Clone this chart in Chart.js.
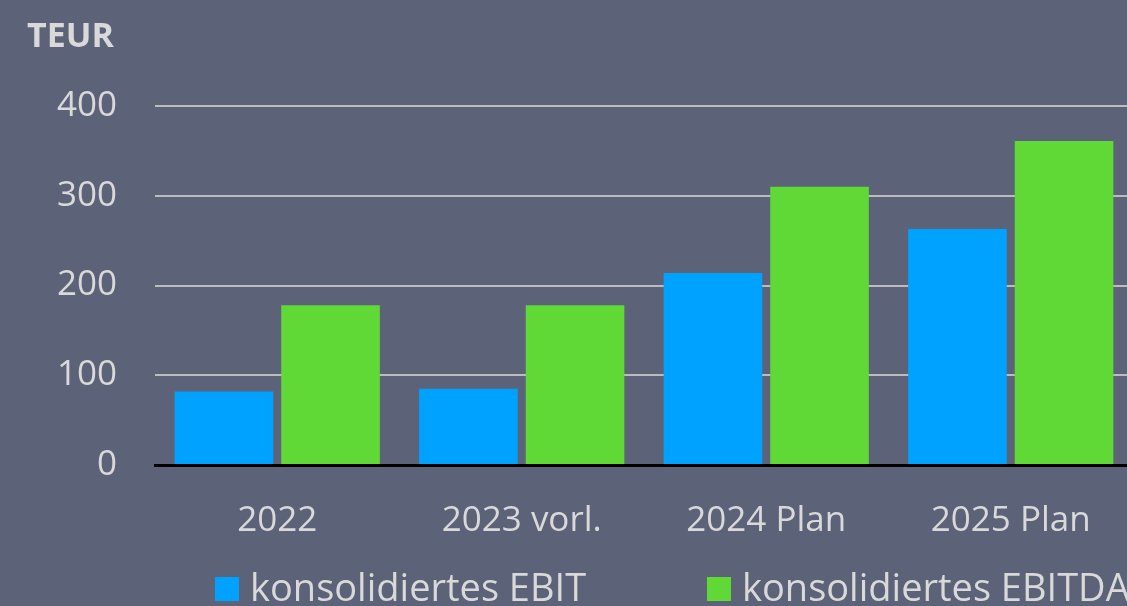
<!DOCTYPE html>
<html lang="de">
<head>
<meta charset="utf-8">
<title>Konsolidiertes EBIT / EBITDA</title>
<script src="https://cdn.jsdelivr.net/npm/chart.js@4/dist/chart.umd.min.js"></script>
<style>
    html, body { margin: 0; padding: 0; background: #5c6278; overflow: hidden; }
    /* the plot runs a few pixels past the right edge, as in the original */
    .chart-wrap { position: relative; width: 1127px; height: 606px; overflow: hidden; }
</style>
</head>
<body>
<div class="chart-wrap"><canvas id="ebitChart" width="1133" height="606"></canvas></div>
<script>
const categories = ['2022', '2023 vorl.', '2024 Plan', '2025 Plan'];
const ebitValues = [82, 85, 214, 263];
const ebitdaValues = [178, 178, 310, 361];
const yTicks = [0, 100, 200, 300, 400];
const unitLabel = 'TEUR';

(function () {
    const textColor = '#d9d9d9';
    const font = '"Open Sans", "Noto Sans", sans-serif';

    // unit label top left and the legend row at the bottom
    const decorations = {
        id: 'decorations',
        afterDraw(chart) {
            const ctx = chart.ctx;
            ctx.save();
            ctx.fillStyle = textColor;
            ctx.textBaseline = 'alphabetic';
            ctx.font = 'bold 34px ' + font;
            ctx.fillText(unitLabel, 27, 47);

            const legendX = [215, 707];
            ctx.font = '38px ' + font;
            chart.data.datasets.forEach((ds, i) => {
                const x = legendX[i];
                ctx.fillStyle = ds.backgroundColor;
                ctx.fillRect(x, 577, 24, 24);
                ctx.fillStyle = textColor;
                ctx.fillText(ds.label, x + 35, 601);
            });
            ctx.restore();
        },
    };

    const buildChart = () => {
        if (!window.Chart) return;
        const canvas = document.getElementById('ebitChart');
        if (!canvas) return;

        new Chart(canvas, {
            type: 'bar',
            data: {
                labels: categories,
                datasets: [
                    {
                        label: 'konsolidiertes EBIT',
                        data: ebitValues,
                        backgroundColor: '#00a2ff',
                    },
                    {
                        label: 'konsolidiertes EBITDA',
                        data: ebitdaValues,
                        backgroundColor: '#60d937',
                    },
                ],
            },
            options: {
                responsive: false,
                animation: false,
                datasets: {
                    bar: {
                        categoryPercentage: 0.872,
                        barPercentage: 0.925,
                    },
                },
                layout: {
                    padding: { top: 106, right: 0, bottom: 61, left: 0 },
                },
                plugins: {
                    legend: { display: false },
                    title: { display: false },
                    tooltip: { enabled: false },
                },
                scales: {
                    x: {
                        grid: { display: false, drawTicks: false },
                        border: { display: true, color: '#000000', width: 3, z: 1 },
                        ticks: {
                            color: textColor,
                            font: { family: font, size: 35 },
                            padding: 35,
                            maxRotation: 0,
                        },
                        afterFit: (scale) => { scale.height = 80; },
                    },
                    y: {
                        min: 0,
                        max: 400,
                        afterBuildTicks: (scale) => {
                            scale.ticks = yTicks.map((v) => ({ value: v }));
                        },
                        grid: {
                            color: '#bcbcbc',
                            lineWidth: 2,
                            drawTicks: false,
                        },
                        border: { display: false },
                        ticks: {
                            color: textColor,
                            font: { family: font, size: 35 },
                            padding: 38,
                        },
                        afterFit: (scale) => { scale.width = 155; },
                    },
                },
            },
            plugins: [decorations],
        });
    };

    document.addEventListener('DOMContentLoaded', buildChart);
})();
</script>
</body>
</html>
